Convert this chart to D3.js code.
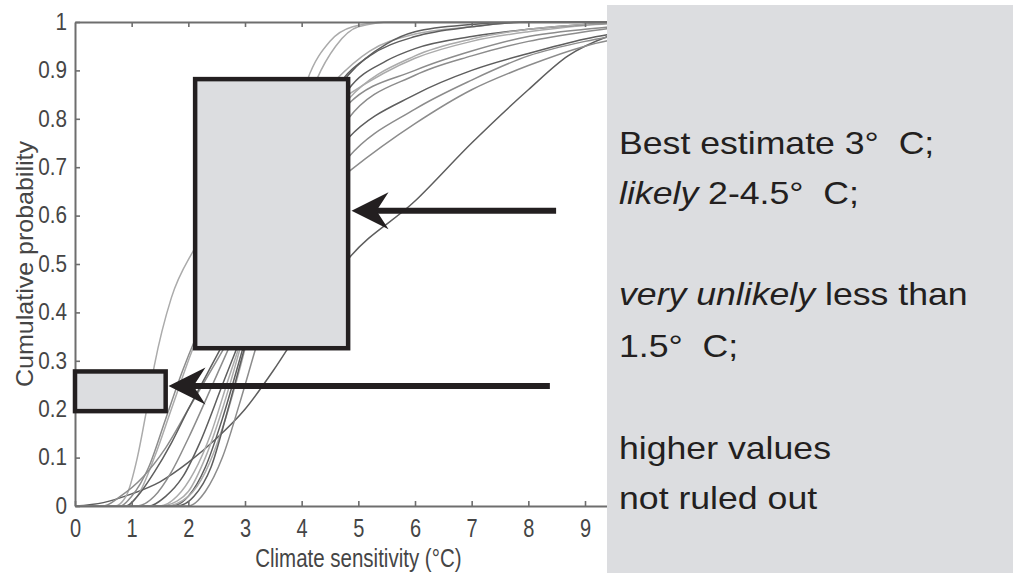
<!DOCTYPE html>
<html><head><meta charset="utf-8">
<script src="https://cdn.jsdelivr.net/npm/d3@7"></script>
<style>html,body{margin:0;padding:0;background:#fff;overflow:hidden}text{white-space:pre}</style>
</head><body><svg id="c" width="1013" height="573"></svg>
<script>
// ---- data ----
const xTickValues = [0,1,2,3,4,5,6,7,8,9];
const yTickValues = [0,0.1,0.2,0.3,0.4,0.5,0.6,0.7,0.8,0.9,1];
const yTickLabels = ["0","0.1","0.2","0.3","0.4","0.5","0.6","0.7","0.8","0.9","1"];
const xTitle = "Climate sensitivity (\u00B0C)";
const yTitle = "Cumulative probability";

// cumulative distributions [sensitivity, probability]
const curveO  = [[0,0],[0.5,0.007],[1,0.025],[1.5,0.05],[2,0.09],[2.5,0.14],[3,0.2],[3.5,0.28],[4,0.37],[4.82,0.51],[6,0.63],[7,0.75],[8,0.86],[8.7,0.93],[9.4,0.97],[10,0.99]];
const curveC1 = [[0,0],[0.7,0],[0.9,0.02],[1.1,0.1],[1.25,0.19],[1.4,0.29],[1.7,0.43],[2.1,0.53],[3,0.67],[4,0.78],[4.82,0.85],[6,0.925],[7,0.96],[8,0.98],[9,0.993],[10,1]];
const curveC2 = [[0,0],[0.8,0],[1.0,0.02],[1.3,0.08],[1.6,0.18],[1.9,0.28],[2.3,0.39],[3,0.5],[4,0.61],[4.82,0.69],[6,0.79],[7,0.86],[8,0.91],[9,0.95],[10,0.975]];
const curveC3 = [[0,0],[0.9,0],[1.1,0.02],[1.4,0.1],[1.7,0.2],[2.0,0.3],[2.4,0.42],[3,0.57],[3.8,0.76],[4.6,0.88],[5.2,0.94],[6,0.975],[7,0.99],[8,1],[10,1]];
const curveE  = [[0,0],[0.5,0],[0.8,0.02],[1.2,0.06],[1.6,0.12],[2,0.2],[2.5,0.3],[3,0.4],[4,0.58],[4.82,0.72],[6,0.82],[7,0.88],[8,0.93],[9,0.96],[10,0.98]];
const curveD5 = [[0,0],[0.9,0],[1.1,0.02],[1.4,0.07],[1.7,0.13],[2,0.2],[2.5,0.31],[3,0.42],[4,0.63],[4.82,0.76],[6,0.85],[7,0.9],[8,0.935],[9,0.965],[10,0.985]];
const curveD4 = [[0,0],[1.1,0],[1.4,0.02],[1.7,0.07],[2.0,0.14],[2.5,0.27],[3,0.4],[3.5,0.52],[4.2,0.68],[4.82,0.8],[6,0.89],[7,0.93],[8,0.96],[9,0.98],[10,0.995]];
const curveD3 = [[0,0],[1.3,0],[1.6,0.02],[1.9,0.06],[2.2,0.13],[2.6,0.25],[3,0.37],[3.5,0.53],[4.2,0.72],[4.82,0.86],[5.5,0.92],[6,0.945],[7,0.97],[8,0.985],[9,0.995],[10,1]];
const curveD2 = [[0,0],[1.5,0],[1.8,0.02],[2.1,0.07],[2.4,0.15],[2.7,0.26],[3.1,0.4],[3.6,0.57],[4.2,0.74],[4.82,0.84],[6,0.93],[7,0.965],[8,0.985],[9,0.995],[10,1]];
const curveD1 = [[0,0],[1.7,0],[2,0.02],[2.3,0.08],[2.6,0.18],[2.9,0.3],[3.3,0.47],[3.8,0.66],[4.3,0.8],[4.82,0.89],[5.5,0.955],[6,0.98],[7,0.995],[8,1],[10,1]];
const curveB1 = [[0,0],[1.5,0],[1.8,0.01],[2,0.03],[2.3,0.1],[2.6,0.2],[2.9,0.32],[3.3,0.5],[3.7,0.7],[4.1,0.88],[4.5,0.96],[4.9,0.99],[5.5,1],[10,1]];
const curveB2 = [[0,0],[1.6,0],[2,0.02],[2.3,0.07],[2.6,0.16],[2.9,0.28],[3.2,0.42],[3.6,0.62],[4.26,0.88],[4.6,0.95],[5,0.99],[5.6,1],[10,1]];
const curveD6 = [[0,0],[1.8,0],[2.1,0.02],[2.4,0.08],[2.7,0.2],[3,0.33],[3.4,0.5],[3.9,0.68],[4.5,0.84],[4.75,0.885],[5.2,0.93],[6,0.97],[7,0.99],[8,1],[10,1]];
const curveD7 = [[0,0],[2.0,0],[2.3,0.03],[2.6,0.1],[2.9,0.21],[3.2,0.33],[3.6,0.48],[4.2,0.67],[4.82,0.83],[6,0.9],[7,0.94],[8,0.97],[9,0.985],[10,0.995]];

const curves = [curveO, curveC1, curveC2, curveC3, curveE, curveD5, curveD4, curveD3, curveD2, curveD1, curveB1, curveB2, curveD6, curveD7];
const curveTone = ["dark","light","mid","light","mid","dark","mid","dark","light","dark","light","light","dark","mid"];

// assessed ranges [x0, x1, p0, p1]
const likelyBox = [2.12, 4.82, 0.326, 0.882];
const veryUnlikelyBox = [0, 1.6, 0.196, 0.278];
// arrows [xFrom, xTo, p]
const arrows = [[8.49, 4.88, 0.61], [8.38, 1.65, 0.248]];

const panelLines = [
  [{t:"Best estimate 3\u00B0  C;"}],
  [{t:"likely", i:true}, {t:" 2-4.5\u00B0  C;"}],
  [],
  [{t:"very unlikely", i:true}, {t:" less than"}],
  [{t:"1.5\u00B0  C;"}],
  [],
  [{t:"higher values"}],
  [{t:"not ruled out"}]
];

// ---- drawing ----
const svg = d3.select("#c");
const x = d3.scaleLinear().domain([0,10]).range([75, 641.67]);
const y = d3.scaleLinear().domain([0,1]).range([506, 22]);
const toneColor = {light:"#ababab", mid:"#8c8c8c", dark:"#5e5e5e"};
const font = "'Liberation Sans', Arial, Helvetica, sans-serif";

svg.append("clipPath").attr("id","plotclip").append("rect")
  .attr("x", x(0)).attr("y", y(1)-1).attr("width", x(10)-x(0)).attr("height", y(0)-y(1)+1);

const line = d3.line().x(d=>x(d[0])).y(d=>y(d[1])).curve(d3.curveMonotoneX);
svg.append("g").attr("clip-path","url(#plotclip)")
  .selectAll("path").data(curves).join("path")
  .attr("d", line).attr("fill","none")
  .attr("stroke", (d,i)=>toneColor[curveTone[i]])
  .attr("stroke-width", 1.5);

const axisColor = "#6e6e6e";
const gTop = svg.append("g").attr("transform", `translate(0,${y(1)})`)
  .call(d3.axisTop(x).tickValues(xTickValues.slice(1)).tickSize(-5).tickSizeOuter(0).tickFormat(""));
const gLeft = svg.append("g").attr("transform", `translate(${x(0)},0)`)
  .call(d3.axisLeft(y).tickValues(yTickValues).tickSize(-5).tickSizeOuter(0).tickPadding(9)
    .tickFormat((d,i)=>yTickLabels[i]));
const gBottom = svg.append("g").attr("transform", `translate(0,${y(0)})`)
  .call(d3.axisBottom(x).tickValues(xTickValues).tickSize(-5).tickSizeOuter(0).tickPadding(13));
[gTop, gLeft, gBottom].forEach(g=>{
  g.selectAll("path.domain").attr("stroke", axisColor).attr("stroke-width", 2);
  g.selectAll(".tick line").attr("stroke", axisColor).attr("stroke-width", 1.6);
  g.selectAll(".tick text").attr("fill", "#454545").style("font-family", font);
});
gLeft.selectAll(".tick text").style("font-size","23px").attr("transform","scale(0.9,1)");
gBottom.selectAll(".tick text").style("font-size","25px").attr("transform","scale(0.8,1)");

svg.append("text").text(xTitle)
  .attr("transform", `translate(${(x(0)+x(10))/2},567) scale(0.82,1)`)
  .attr("text-anchor","middle").attr("fill","#454545")
  .style("font-family", font).style("font-size","25px");
svg.append("text").text(yTitle)
  .attr("transform", `translate(33,${(y(0)+y(1))/2}) scale(0.92,1) rotate(-90)`)
  .attr("text-anchor","middle").attr("fill","#454545")
  .style("font-family", font).style("font-size","25px");

// boxes
const ink = "#231f20";
[likelyBox, veryUnlikelyBox].forEach(b=>{
  svg.append("rect")
    .attr("x", x(b[0])).attr("y", y(b[3]))
    .attr("width", x(b[1])-x(b[0])).attr("height", y(b[2])-y(b[3]))
    .attr("fill","#dcdde0").attr("stroke", ink).attr("stroke-width", 4.5);
});

// arrows
arrows.forEach(a=>{
  const tx = x(a[1]), ty = y(a[2]), sx = x(a[0]);
  svg.append("line").attr("x1", sx).attr("x2", tx+24).attr("y1", ty).attr("y2", ty)
    .attr("stroke", ink).attr("stroke-width", 6);
  svg.append("path")
    .attr("d", `M${tx},${ty} L${tx+37},${ty-18.5} L${tx+25},${ty} L${tx+37},${ty+18.5} Z`)
    .attr("fill", ink);
});

// right panel
svg.append("rect").attr("x",607).attr("y",5).attr("width",406).attr("height",568).attr("fill","#dcdde0");
const gp = svg.append("g").attr("transform","translate(619,0) scale(1.15,1)");
const baselines = [154,204,255,305,357,408,459,509];
panelLines.forEach((ln,i)=>{
  if(!ln.length) return;
  const t = gp.append("text").attr("x",0).attr("y",baselines[i])
    .attr("fill", ink).style("font-family", font).style("font-size","31px");
  ln.forEach(seg=>{
    t.append("tspan").text(seg.t).style("font-style", seg.i ? "italic" : "normal");
  });
});
</script></body></html>
